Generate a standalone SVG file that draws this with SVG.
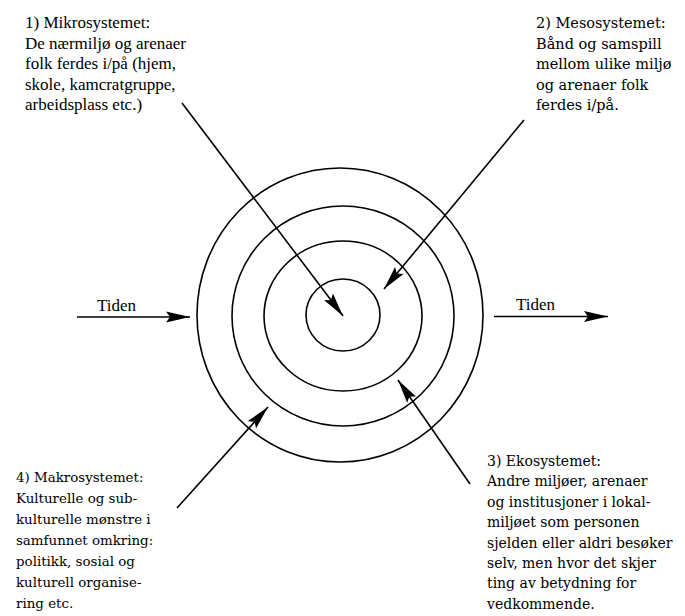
<svg xmlns="http://www.w3.org/2000/svg" width="685" height="616" viewBox="0 0 685 616">
<style>
.t{font-family:"Liberation Serif","Times New Roman",serif;font-size:17px;fill:#000}
.w{font-family:"DejaVu Serif",serif;font-size:14.5px;fill:#000}
.e{font-family:"DejaVu Serif",serif;font-size:14px;fill:#000}
.m{font-family:"DejaVu Serif",serif;font-size:13.4px;fill:#000}
.ring{fill:none;stroke:#000;stroke-width:1.6}
.ln{stroke:#000;stroke-width:1.6;fill:none}
</style>
<defs>
<marker id="ah" markerUnits="userSpaceOnUse" markerWidth="24" markerHeight="12" viewBox="0 0 24 12" refX="24" refY="6" orient="auto">
<path d="M0,0.5 L24,6 L0,11.5 L4,6 Z" fill="#000"/>
</marker>
</defs>
<rect width="685" height="616" fill="#fff"/>
<g id="rings">
<ellipse class="ring" cx="343" cy="315" rx="37" ry="36"/>
<ellipse class="ring" cx="343" cy="316" rx="79" ry="75"/>
<ellipse class="ring" cx="343" cy="316" rx="111" ry="110"/>
<ellipse class="ring" cx="340" cy="315" rx="143" ry="147"/>
</g>
<g id="connectors">
<line class="ln" x1="182" y1="103" x2="343" y2="316" marker-end="url(#ah)"/>
<line class="ln" x1="524" y1="120" x2="384" y2="289" marker-end="url(#ah)"/>
<line class="ln" x1="470" y1="484" x2="398" y2="380" marker-end="url(#ah)"/>
<line class="ln" x1="177" y1="508" x2="268" y2="407" marker-end="url(#ah)"/>
<line class="ln" x1="77" y1="317" x2="190" y2="317" marker-end="url(#ah)"/>
<line class="ln" x1="494" y1="316.5" x2="608" y2="316.5" marker-end="url(#ah)"/>
</g>
<g id="tiden-left"><text class="t" x="97" y="311">Tiden</text></g>
<g id="tiden-right"><text class="t" x="516" y="310">Tiden</text></g>
<g id="mikro">
<text class="t" x="25" y="28">1) Mikrosystemet:</text>
<text class="t" x="25" y="48.5">De nærmiljø og arenaer</text>
<text class="t" x="25" y="69">folk ferdes i/på (hjem,</text>
<text class="t" x="25" y="89.5">skole, kamcratgruppe,</text>
<text class="t" x="25" y="110">arbeidsplass  etc.)</text>
</g>
<g id="meso">
<text class="w" x="536" y="28">2) Mesosystemet:</text>
<text class="w" x="536" y="48.5">Bånd og samspill</text>
<text class="w" x="536" y="69">mellom ulike miljø</text>
<text class="w" x="536" y="89.5">og arenaer folk</text>
<text class="w" x="536" y="110">ferdes i/på.</text>
</g>
<g id="eko">
<text class="e" x="487" y="466">3) Ekosystemet:</text>
<text class="e" x="487" y="486.4">Andre miljøer, arenaer</text>
<text class="e" x="487" y="506.8">og institusjoner i lokal-</text>
<text class="e" x="487" y="527.2">miljøet som personen</text>
<text class="e" x="487" y="547.6">sjelden eller aldri besøker</text>
<text class="e" x="487" y="568">selv, men hvor det skjer</text>
<text class="e" x="487" y="588.4">ting av betydning for</text>
<text class="e" x="487" y="608.8">vedkommende.</text>
</g>
<g id="makro">
<text class="m" x="16" y="482">4) Makrosystemet:</text>
<text class="m" x="16" y="503">Kulturelle og sub-</text>
<text class="m" x="16" y="524">kulturelle mønstre i</text>
<text class="m" x="16" y="545">samfunnet omkring:</text>
<text class="m" x="16" y="566">politikk, sosial og</text>
<text class="m" x="16" y="587">kulturell organise-</text>
<text class="m" x="16" y="608">ring etc.</text>
</g>
</svg>
